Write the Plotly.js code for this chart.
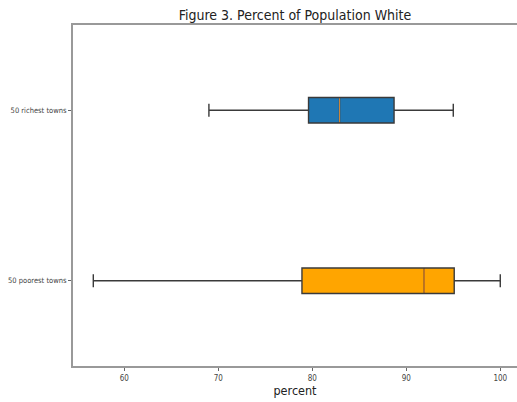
<!DOCTYPE html>
<html>
<head>
<meta charset="utf-8">
<script src="https://cdn.plot.ly/plotly-3.0.1.min.js"></script>
<style>
  html, body { margin: 0; padding: 0; background: #fff; }
  #chart { width: 517px; height: 402px; }
</style>
</head>
<body>
<div id="chart"></div>
<script>
// Box-plot summary statistics (percent of population white)
const groups      = ["50 poorest towns", "50 richest towns"];
const positions   = [0, 1];
const lowerFence  = [56.7, 69.0];
const q1          = [78.9, 79.6];
const median      = [91.9, 82.9];
const q3          = [95.1, 88.7];
const upperFence  = [100.0, 95.0];
const fillColors  = ["#ffa500", "#1f77b4"];
const medianColors = ["#ff8c1a", "#d08a3c"];
const xTicks      = [60, 70, 80, 90, 100];

const BOX_WIDTH = 0.15;
const narrow = "'Liberation Sans Narrow', 'DejaVu Sans Condensed', 'Arial Narrow', sans-serif";

const traces = [];
groups.forEach((g, i) => {
  traces.push({
    type: "box",
    orientation: "h",
    y: [positions[i]],
    q1: [q1[i]],
    median: [median[i]],
    q3: [q3[i]],
    lowerfence: [lowerFence[i]],
    upperfence: [upperFence[i]],
    width: BOX_WIDTH,
    whiskerwidth: 0.5,
    fillcolor: fillColors[i],
    line: { color: "#3a3a3a", width: 1.4 },
    hoverinfo: "skip",
    showlegend: false
  });
});
// Median lines drawn in their own colour over each box
groups.forEach((g, i) => {
  traces.push({
    type: "scatter",
    mode: "lines",
    x: [median[i], median[i]],
    y: [positions[i] - BOX_WIDTH / 2 + 0.005, positions[i] + BOX_WIDTH / 2 - 0.005],
    line: { color: medianColors[i], width: 1 },
    hoverinfo: "skip",
    showlegend: false
  });
});

const layout = {
  width: 517,
  height: 402,
  margin: { l: 73, r: 0, t: 25, b: 36 },
  paper_bgcolor: "#fff",
  plot_bgcolor: "#fff",
  title: {
    text: "Figure 3. Percent of Population White",
    font: { family: narrow, size: 14, color: "#222" },
    xref: "paper", x: 0.5, xanchor: "center",
    yref: "container", y: 0.962, yanchor: "middle"
  },
  xaxis: {
    range: [54.54, 101.78],
    tickvals: xTicks,
    ticktext: xTicks.map(String),
    ticks: "outside",
    ticklen: 3,
    tickcolor: "#666",
    tickfont: { family: narrow, size: 8, color: "#444" },
    showgrid: false,
    zeroline: false,
    showline: true,
    linecolor: "#999",
    linewidth: 2,
    mirror: true,
    title: { text: "percent", font: { family: narrow, size: 12.5, color: "#222" }, standoff: 5 }
  },
  yaxis: {
    range: [-0.5, 1.5],
    tickvals: positions,
    ticktext: groups,
    ticks: "outside",
    ticklen: 3,
    tickcolor: "#666",
    tickfont: { family: narrow, size: 7.5, color: "#444" },
    showgrid: false,
    zeroline: false,
    showline: true,
    linecolor: "#999",
    linewidth: 2
  }
};

Plotly.newPlot("chart", traces, layout, { staticPlot: true, displayModeBar: false });
</script>
</body>
</html>
